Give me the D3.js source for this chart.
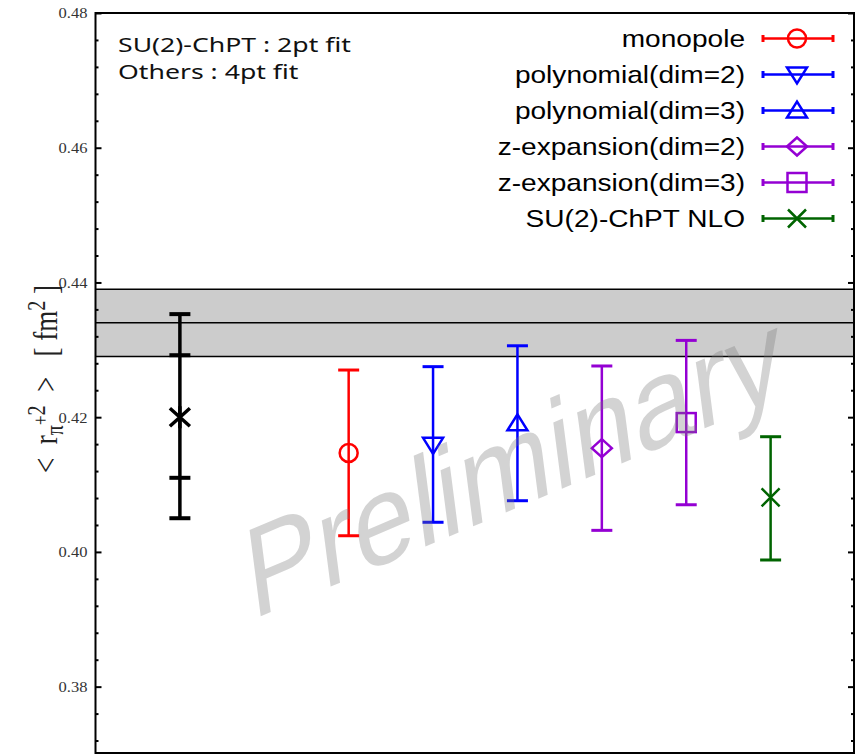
<!DOCTYPE html>
<html>
<head>
<meta charset="utf-8">
<script src="https://cdn.jsdelivr.net/npm/d3@7/dist/d3.min.js"></script>
<style>
  html, body { margin: 0; padding: 0; background: #fff; }
  svg { display: block; }
</style>
</head>
<body>
<svg id="chart" width="864" height="754"></svg>
<script>
// Pion charge radius <r^2> from several form-factor fits
const fitNames = ["monopole", "polynomial(dim=2)", "polynomial(dim=3)",
                  "z-expansion(dim=2)", "z-expansion(dim=3)", "SU(2)-ChPT NLO"];
const fitSlots = [3, 4, 5, 6, 7, 8];
const fitCentral = [0.4147, 0.4159, 0.4191, 0.4154, 0.4192, 0.4081];
const fitUpper   = [0.4270, 0.4275, 0.4306, 0.4276, 0.4314, 0.4171];
const fitLower   = [0.4024, 0.4044, 0.4076, 0.4032, 0.4070, 0.3988];
const fitColors  = ["#ff0000", "#0000ff", "#0000ff", "#9400d3", "#9400d3", "#006400"];
const fitSymbols = ["circle", "triangleDown", "triangleUp", "diamond", "square", "cross"];

// reference value with statistical and total errors
const refSlot = 1;
const refCentral = 0.4200;
const refStat = [0.4110, 0.4292];
const refTotal = [0.4050, 0.4353];

// experimental band
const bandCentral = 0.434;
const bandRange = [0.429, 0.439];

const majorTicks = [0.38, 0.40, 0.42, 0.44, 0.46, 0.48];
const minorTicks = d3.range(93, 120).filter(k => k % 5 !== 0).map(k => +(k * 0.004).toFixed(3));

const svg = d3.select("#chart");
const plotLeft = 95.5, plotRight = 854, plotTop = 13, plotBottom = 753;

const y = d3.scaleLinear().domain([0.37, 0.48]).range([754, 13]);
const x = d3.scaleLinear().domain([0, 9]).range([plotLeft, 855]);

// band
svg.append("rect")
  .attr("x", plotLeft).attr("width", plotRight - plotLeft)
  .attr("y", y(bandRange[1])).attr("height", y(bandRange[0]) - y(bandRange[1]))
  .attr("fill", "#cccccc");
[bandRange[0], bandCentral, bandRange[1]].forEach(v => {
  svg.append("line")
    .attr("x1", plotLeft).attr("x2", plotRight)
    .attr("y1", y(v)).attr("y2", y(v))
    .attr("stroke", "#000").attr("stroke-width", 1.5);
});

// axis ticks (inward on both sides)
const gl = svg.append("g").attr("transform", `translate(${plotLeft},0)`);
gl.call(d3.axisRight(y).tickValues(majorTicks).tickSize(6).tickFormat(""));
gl.append("g").call(d3.axisRight(y).tickValues(minorTicks).tickSize(3).tickFormat(""));
const gr = svg.append("g").attr("transform", `translate(${plotRight},0)`);
gr.call(d3.axisLeft(y).tickValues(majorTicks).tickSize(6).tickFormat(""));
gr.append("g").call(d3.axisLeft(y).tickValues(minorTicks).tickSize(3).tickFormat(""));
svg.selectAll(".domain").remove();
svg.selectAll(".tick line").attr("stroke", "#000").attr("stroke-width", 2);

// tick labels
const glab = svg.append("g").attr("transform", `translate(${plotLeft},0)`)
  .call(d3.axisLeft(y).tickValues(majorTicks).tickSize(0).tickPadding(0).tickFormat(d3.format(".2f")));
glab.select(".domain").remove();
const sx = 1.18;
glab.selectAll("text")
  .attr("x", -8 / sx)
  .attr("dy", "0.35em")
  .attr("transform", `scale(${sx},1)`)
  .attr("fill", "#333")
  .style("font-family", "'Liberation Serif', serif")
  .style("font-size", "14px");

// frame
svg.append("rect")
  .attr("x", plotLeft).attr("y", plotTop)
  .attr("width", plotRight - plotLeft).attr("height", plotBottom - plotTop)
  .attr("fill", "none").attr("stroke", "#000").attr("stroke-width", 2);

// point symbols
function marker(g, type, cx, cy, color, sw) {
  const s = g.append("g").attr("transform", `translate(${cx},${cy})`)
    .attr("fill", "none").attr("stroke", color).attr("stroke-width", sw);
  if (type === "circle") s.append("circle").attr("r", 9);
  else if (type === "triangleDown") s.append("path").attr("d", "M-10,-7L10,-7L0,9Z");
  else if (type === "triangleUp") s.append("path").attr("d", "M-10,7L10,7L0,-9Z");
  else if (type === "diamond") s.append("path").attr("d", "M0,-9L10,0L0,9L-10,0Z");
  else if (type === "square") s.append("rect").attr("x", -9.5).attr("y", -9.5).attr("width", 19).attr("height", 19);
  else if (type === "cross") s.append("path").attr("d", "M-9,-9L9,9M-9,9L9,-9");
  else if (type === "star") s.append("path").attr("d", "M-10,-9L10,9M-10,9L10,-9M0,-11L0,11");
}

function errorBar(g, cx, lo, hi, color, sw, cap) {
  g.append("line").attr("x1", cx).attr("x2", cx).attr("y1", y(lo)).attr("y2", y(hi))
    .attr("stroke", color).attr("stroke-width", sw);
  [lo, hi].forEach(v => g.append("line")
    .attr("x1", cx - cap).attr("x2", cx + cap).attr("y1", y(v)).attr("y2", y(v))
    .attr("stroke", color).attr("stroke-width", sw + 0.5));
}

const marks = svg.append("g");

// reference point
errorBar(marks, x(refSlot), refTotal[0], refTotal[1], "#000", 3.5, 10.5);
[refStat[0], refStat[1]].forEach(v => marks.append("line")
  .attr("x1", x(refSlot) - 10.5).attr("x2", x(refSlot) + 10.5)
  .attr("y1", y(v)).attr("y2", y(v))
  .attr("stroke", "#000").attr("stroke-width", 4));
marker(marks, "star", x(refSlot), y(refCentral), "#000", 3.5);

// fits
fitNames.forEach((name, i) => {
  const cx = x(fitSlots[i]);
  errorBar(marks, cx, fitLower[i], fitUpper[i], fitColors[i], 2.5, 10.5);
  marker(marks, fitSymbols[i], cx, y(fitCentral[i]), fitColors[i], 2.5);
});

// legend
const legend = svg.append("g");
fitNames.forEach((name, i) => {
  const ly = 38.5 + i * 36;
  legend.append("text")
    .attr("transform", `translate(745,${ly + 8.5}) scale(1.17,1)`)
    .attr("text-anchor", "end")
    .style("font-family", "'Liberation Sans', Arial, sans-serif")
    .style("font-size", "24px")
    .attr("fill", "#000")
    .text(name);
  legend.append("line").attr("x1", 763).attr("x2", 833).attr("y1", ly).attr("y2", ly)
    .attr("stroke", fitColors[i]).attr("stroke-width", 2.5);
  [763, 833].forEach(ex => legend.append("line")
    .attr("x1", ex).attr("x2", ex).attr("y1", ly - 3.5).attr("y2", ly + 3.5)
    .attr("stroke", fitColors[i]).attr("stroke-width", 3));
  marker(legend, fitSymbols[i], 797, ly, fitColors[i], 2.5);
});

// fit-range note
const note = svg.append("g")
  .style("font-family", "'Noto Sans', sans-serif")
  .style("font-size", "20.5px")
  .attr("fill", "#111");
note.append("text").attr("transform", "translate(118,51.5) scale(1.3,1)").text("SU(2)-ChPT : 2pt fit");
note.append("text").attr("transform", "translate(118,78.5) scale(1.3,1)").text("Others : 4pt fit");

// y-axis title
const yt = svg.append("text")
  .attr("transform", "translate(57,379) rotate(-90) scale(1,1.25)")
  .attr("text-anchor", "middle")
  .style("font-family", "'Liberation Serif', serif")
  .style("font-size", "27px")
  .style("white-space", "pre")
  .attr("fill", "#222");
yt.append("tspan").text("<  r");
yt.append("tspan").attr("dy", 5).style("font-size", "20px").text("π");
yt.append("tspan").attr("dy", -12).style("font-size", "17px").text("+");
yt.append("tspan").attr("dy", -3).style("font-size", "20px").text("2");
yt.append("tspan").attr("dy", 10).text("  >   [ fm");
yt.append("tspan").attr("dy", -10).style("font-size", "20px").text("2");
yt.append("tspan").attr("dy", 10).text(" ]");

// watermark
svg.append("text")
  .attr("transform", "translate(252,620) matrix(0.921,-0.39,0.14,1.08,0,0)")
  .style("font-family", "'Liberation Sans', Arial, sans-serif")
  .style("font-size", "116px")
  .attr("fill", "#7a7a7a")
  .attr("fill-opacity", 0.33)
  .text("Preliminary");
</script>
</body>
</html>
